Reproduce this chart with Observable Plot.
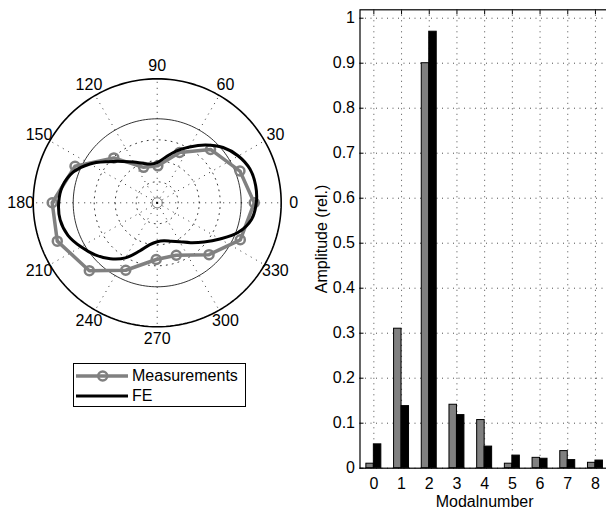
<!DOCTYPE html>
<html><head><meta charset="utf-8">
<script src="https://cdn.jsdelivr.net/npm/d3@7"></script>
<script src="https://cdn.jsdelivr.net/npm/@observablehq/plot@0.6"></script>
<style>
body{margin:0;background:#fff;font-family:"Liberation Sans",Arial,sans-serif;}
#wrap{position:relative;width:606px;height:510px;overflow:hidden;background:#fff;}
#polar,#bars{position:absolute;top:0;}
#polar{left:0;width:310px;}
#bars{left:300px;width:320px;}
#wrap svg{max-width:none !important;}
#legend{position:absolute;left:73px;top:363px;width:171px;height:42px;border:1px solid #000;background:#fff;font-size:16px;}
#legend .row{position:absolute;left:0;height:20px;display:flex;align-items:center;}
#legend .row span{margin-left:3px;}
</style></head>
<body>
<div id="wrap">
  <div id="polar"></div>
  <div id="bars"></div>
  <div id="legend">
    <div class="row" style="top:2px;"><svg width="55" height="20"><line x1="2" y1="10" x2="54" y2="10" stroke="#808080" stroke-width="3.5"/><circle cx="28.7" cy="10" r="4.5" fill="none" stroke="#808080" stroke-width="2.5"/></svg><span>Measurements</span></div>
    <div class="row" style="top:22px;"><svg width="55" height="20"><line x1="2" y1="10" x2="54" y2="10" stroke="#000" stroke-width="3"/></svg><span>FE</span></div>
  </div>
</div>
<script>
// ---- polar data (radius in units of the thin reference circle) ----
const measAngles = [0,21,45,66,89,111,134,156,180,201,225,245,269,290,315,336];
const measRadii  = [1.155,1.055,0.898,0.655,0.44,0.452,0.743,1.071,1.25,1.274,1.143,0.886,0.675,0.664,0.873,1.083];
const feAngles = [0,10,20,30,40,50,60,70,80,90,100,110,120,130,140,150,160,170,180,190,200,210,220,230,240,250,260,270,280,290,300,310,320,330,340,350];
const feRadii  = [1.180,1.190,1.175,1.115,1.024,0.899,0.768,0.655,0.548,0.478,0.468,0.500,0.560,0.643,0.762,0.925,1.065,1.145,1.173,1.173,1.131,1.048,0.964,0.869,0.757,0.610,0.506,0.464,0.458,0.486,0.536,0.619,0.726,0.862,1.028,1.140];
const angleLabels = [0,30,60,90,120,150,180,210,240,270,300,330];
const dottedRings = [0.25,0.5,0.75];
const refRing = 1;
const outerRing = 1.476;
const centerRing = 0.06;

// ---- bar data ----
const modes = [0,1,2,3,4,5,6,7,8];
const measAmp = [0.01,0.31,0.90,0.141,0.107,0.01,0.023,0.038,0.012];
const feAmp   = [0.053,0.138,0.97,0.118,0.048,0.028,0.021,0.018,0.017];
const yTicks = [0,0.1,0.2,0.3,0.4,0.5,0.6,0.7,0.8,0.9,1];

const deg = Math.PI/180;
const px = d => d.r*Math.cos(d.a*deg);
const py = d => d.r*Math.sin(d.a*deg);
const meas = measAngles.map((a,i)=>({a, r:measRadii[i]}));
const fe = feAngles.map((a,i)=>({a, r:feRadii[i]}));
const ringPts = rs => rs.flatMap(r => d3.range(0,361,2).map(a=>({a, r, ring:r})));
const spokes = angleLabels.map(a=>({a}));

const cx = 156.7, cy = 202.3, k = 84;
const polar = Plot.plot({
  width: 310, height: 360, margin: 0,
  style: {fontFamily: '"Liberation Sans", Arial, sans-serif', fontSize: "16px", background: "transparent"},
  x: {domain: [-1, 1], range: [cx-k, cx+k], axis: null},
  y: {domain: [-1, 1], range: [cy+k, cy-k], axis: null},
  marks: [
    Plot.link(spokes, {x1: 0, y1: 0, x2: d=>outerRing*Math.cos(d.a*deg), y2: d=>outerRing*Math.sin(d.a*deg), stroke: "#000", strokeWidth: 1, strokeOpacity: 0.8, strokeDasharray: "1,5"}),
    Plot.line(ringPts(dottedRings), {x: px, y: py, z: "ring", stroke: "#000", strokeWidth: 1, strokeOpacity: 0.8, strokeDasharray: "1,5"}),
    Plot.line(ringPts([centerRing]), {x: px, y: py, z: "ring", stroke: "#000", strokeWidth: 0.6}),
    Plot.line(ringPts([refRing]), {x: px, y: py, z: "ring", stroke: "#000", strokeWidth: 0.8}),
    Plot.line(ringPts([outerRing]), {x: px, y: py, z: "ring", stroke: "#000", strokeWidth: 1.6}),
    Plot.line(meas, {x: px, y: py, curve: "linear-closed", stroke: "#808080", strokeWidth: 3.5, strokeLinejoin: "round"}),
    Plot.dot(meas, {x: px, y: py, r: 4.5, stroke: "#808080", strokeWidth: 2.5, fill: "none"}),
    Plot.line(fe, {x: px, y: py, curve: "catmull-rom-closed", stroke: "#000", strokeWidth: 3}),
    Plot.text(spokes, {x: d=>1.625*Math.cos(d.a*deg), y: d=>1.625*Math.sin(d.a*deg), text: d=>String(d.a), fontSize: 16, fill: "#000"})
  ]
});
document.getElementById("polar").append(polar);

const barRows = modes.flatMap((m,i)=>[
  {mode: m, series: "Measurements", value: measAmp[i]},
  {mode: m, series: "FE", value: feAmp[i]}
]);
const bw = 0.27;
const bars = Plot.plot({
  width: 320, height: 510,
  marginLeft: 59.5, marginRight: 11.2, marginTop: 9.3, marginBottom: 42.3,
  style: {fontFamily: '"Liberation Sans", Arial, sans-serif', fontSize: "16px", background: "transparent", color: "#000"},
  x: {domain: [-0.5, 8.5]},
  y: {domain: [0, 1.0187]},
  marks: [
    Plot.gridY(yTicks, {stroke: "#000", strokeOpacity: 0.7, strokeDasharray: "1,4.5"}),
    Plot.gridX(modes, {stroke: "#000", strokeOpacity: 0.7, strokeDasharray: "1,4.5"}),
    Plot.rectY(barRows, {
      x1: d => d.series === "Measurements" ? d.mode - bw : d.mode,
      x2: d => d.series === "Measurements" ? d.mode : d.mode + bw,
      y1: 0, y2: "value",
      fill: d => d.series === "Measurements" ? "#808080" : "#000",
      stroke: "#000", strokeWidth: 1
    }),
    Plot.axisY(yTicks, {anchor: "left", tickSize: -4, tickPadding: 9, tickFormat: d => d===0 ? "0" : d===1 ? "1" : d3.format(".1f")(d), label: "Amplitude (rel.)", labelAnchor: "center", labelOffset: 44, labelArrow: "none", fontSize: 16}),
    Plot.axisX(modes, {anchor: "bottom", tickSize: -4, tickPadding: 13, tickFormat: d=>String(d), label: "Modalnumber", labelAnchor: "center", labelOffset: 39, labelArrow: "none", fontSize: 16}),
    Plot.axisX(modes, {anchor: "top", tickSize: -4, text: null, label: null}),
    Plot.frame({stroke: "#000", strokeWidth: 1.2})
  ]
});
document.getElementById("bars").append(bars);
</script>
</body></html>
